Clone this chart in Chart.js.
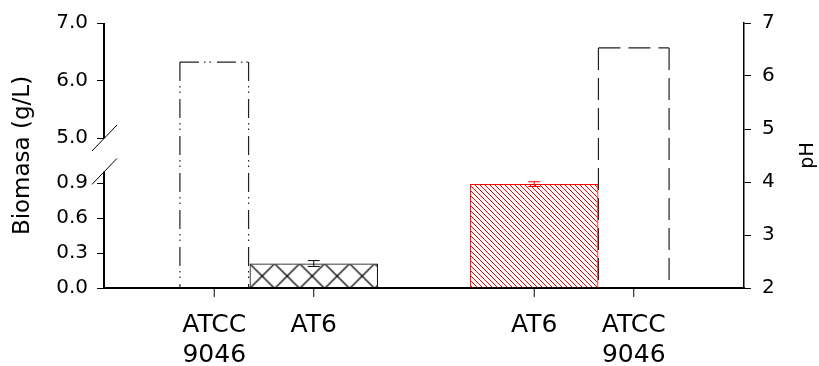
<!DOCTYPE html>
<html>
<head>
<meta charset="utf-8">
<script src="https://cdn.jsdelivr.net/npm/chart.js@4.4.1/dist/chart.umd.min.js"></script>
<style>
  html, body { margin: 0; padding: 0; background: #fff; }
  #wrap { width: 819px; height: 366px; }
</style>
</head>
<body>
<div id="wrap"><canvas id="chart"></canvas></div>
<script>
// two groups: biomass (left axis) and pH (right axis)
const groups = ['Biomasa', 'pH'];
const biomasaATCC = [6.32, null];
const biomasaAT6 = [0.21, null];
const biomasaAT6Err = [0.025, null];
const phAT6 = [null, 3.96];
const phAT6Err = [null, 0.045];
const phATCC = [null, 6.53];

const atccLabel = ['ATCC', '9046'];
const at6Label = ['AT6'];

const biomasaTicks = [0, 0.3, 0.6, 0.9, 5, 6, 7];
const biomasaBreak = [1.0, 5.0];
const phTicks = [2, 3, 4, 5, 6, 7];

Chart.defaults.font.family = 'DejaVu Sans';
Chart.defaults.color = '#000';

// linear axis with a jump between biomasaBreak[0] and biomasaBreak[1]
class BrokenScale extends Chart.LinearScale {
  buildTicks() {
    return biomasaTicks.map(value => ({ value }));
  }
  parts() {
    const h = this.bottom - this.top;
    const low = h * this.options.lowPart;
    const gap = h * this.options.gapPart;
    return { low, gap, high: h - low - gap };
  }
  getPixelForValue(value) {
    const [lo, hi] = biomasaBreak;
    const p = this.parts();
    if (value <= lo) return this.bottom - (value - this.min) / (lo - this.min) * p.low;
    if (value >= hi) return this.top + (this.max - value) / (this.max - hi) * p.high;
    return this.bottom - p.low - (value - lo) / (hi - lo) * p.gap;
  }
  getValueForPixel(pixel) {
    const [lo, hi] = biomasaBreak;
    const p = this.parts();
    const up = this.bottom - pixel;
    if (up <= p.low) return this.min + up / p.low * (lo - this.min);
    if (up >= p.low + p.gap) return this.max - (pixel - this.top) / p.high * (this.max - hi);
    return lo + (up - p.low) / p.gap * (hi - lo);
  }
}
BrokenScale.id = 'broken';
BrokenScale.defaults = Chart.LinearScale.defaults;
Chart.register(BrokenScale);

function makePattern(size, color, cross, width) {
  const c = document.createElement('canvas');
  c.width = c.height = size;
  const g = c.getContext('2d');
  g.strokeStyle = color;
  g.lineWidth = width;
  g.beginPath();
  for (let k = -1; k <= 1; k++) {
    g.moveTo(k * size, 0); g.lineTo(k * size + size, size);
    if (cross) { g.moveTo(k * size, size); g.lineTo(k * size + size, 0); }
  }
  g.stroke();
  return g.createPattern(c, 'repeat');
}
const hatchCross = makePattern(25, '#000', true, 1.3);
const hatchRed = makePattern(5, '#ff0000', false, 1);

const extras = {
  id: 'extras',
  beforeDatasetsDraw(chart) {
    const ctx = chart.ctx;
    const crossBar = chart.getDatasetMeta(1).data[0];
    if (hatchCross.setTransform) {
      hatchCross.setTransform(new DOMMatrix().translate(crossBar.x - crossBar.width / 2, crossBar.y));
    }
    chart.data.datasets.forEach((ds, i) => {
      if (!ds.outlineDash) return;
      chart.getDatasetMeta(i).data.forEach((el, j) => {
        if (ds.data[j] == null) return;
        const l = el.x - el.width / 2, r = el.x + el.width / 2;
        ctx.save();
        ctx.strokeStyle = '#222';
        ctx.lineWidth = 1.2;
        ctx.setLineDash(ds.outlineDash);
        [[l, el.y, l, el.base], [l, el.y, r, el.y], [r, el.y, r, el.base]].forEach(s => {
          ctx.beginPath();
          ctx.moveTo(s[0], s[1]);
          ctx.lineTo(s[2], s[3]);
          ctx.stroke();
        });
        ctx.restore();
      });
    });
  },
  afterDatasetsDraw(chart) {
    const ctx = chart.ctx;
    chart.data.datasets.forEach((ds, i) => {
      if (!ds.err) return;
      const scale = chart.scales[ds.yAxisID];
      chart.getDatasetMeta(i).data.forEach((el, j) => {
        if (ds.data[j] == null || ds.err[j] == null) return;
        const y1 = scale.getPixelForValue(ds.data[j] + ds.err[j]);
        const y2 = scale.getPixelForValue(ds.data[j] - ds.err[j]);
        ctx.save();
        ctx.strokeStyle = ds.borderColor;
        ctx.lineWidth = 1;
        ctx.beginPath();
        ctx.moveTo(el.x, y1); ctx.lineTo(el.x, y2);
        ctx.moveTo(el.x - 6, y1); ctx.lineTo(el.x + 6, y1);
        ctx.moveTo(el.x - 6, y2); ctx.lineTo(el.x + 6, y2);
        ctx.stroke();
        ctx.restore();
      });
    });
  },
  afterDraw(chart) {
    const ctx = chart.ctx;
    const area = chart.chartArea;
    const y = chart.scales.y;
    const x0 = y.right;
    const pLow = y.getPixelForValue(biomasaBreak[0]);
    const pHigh = y.getPixelForValue(biomasaBreak[1]);
    ctx.save();
    ctx.strokeStyle = '#000';
    // left axis with break
    ctx.lineWidth = 2;
    ctx.beginPath();
    ctx.moveTo(x0, area.bottom + 1); ctx.lineTo(x0, pLow);
    ctx.moveTo(x0, pHigh); ctx.lineTo(x0, area.top);
    ctx.stroke();
    ctx.lineWidth = 1;
    ctx.beginPath();
    [pLow, pHigh].forEach(p => {
      ctx.moveTo(x0 - 12, p + 13);
      ctx.lineTo(x0 + 13, p - 13);
    });
    ctx.stroke();

    // category ticks and labels under each bar
    ctx.fillStyle = '#000';
    ctx.font = '25px "DejaVu Sans"';
    ctx.textAlign = 'center';
    ctx.textBaseline = 'middle';
    chart.data.datasets.forEach((ds, i) => {
      chart.getDatasetMeta(i).data.forEach((el, j) => {
        if (ds.data[j] == null) return;
        ctx.beginPath();
        ctx.moveTo(el.x, area.bottom);
        ctx.lineTo(el.x, area.bottom + 9);
        ctx.stroke();
        ds.strain.forEach((line, k) => ctx.fillText(line, el.x, area.bottom + 37 + k * 30));
      });
    });

    // right axis title, reading upward
    ctx.font = '19px "DejaVu Sans"';
    ctx.translate(808, (area.top + area.bottom) / 2);
    ctx.rotate(-Math.PI / 2);
    ctx.fillText('pH', 0, 0);
    ctx.restore();
  }
};

new Chart(document.getElementById('chart'), {
  type: 'bar',
  data: {
    labels: groups,
    datasets: [
      { label: 'ATCC 9046', data: biomasaATCC, yAxisID: 'y', backgroundColor: 'rgba(0,0,0,0)',
        borderWidth: 0, barPercentage: 0.69, outlineDash: [19, 5, 1.5, 4, 1.5, 6], strain: atccLabel },
      { label: 'AT6', data: biomasaAT6, err: biomasaAT6Err, yAxisID: 'y', backgroundColor: hatchCross,
        borderColor: '#000', borderWidth: 1, barPercentage: 1.29, strain: at6Label },
      { label: 'AT6', data: phAT6, err: phAT6Err, yAxisID: 'y1', base: phTicks[0], backgroundColor: hatchRed,
        borderColor: '#ff0000', borderWidth: 1, barPercentage: 1.29, strain: at6Label },
      { label: 'ATCC 9046', data: phATCC, yAxisID: 'y1', base: phTicks[0], backgroundColor: 'rgba(0,0,0,0)',
        borderWidth: 0, barPercentage: 0.71, outlineDash: [22, 8], strain: atccLabel }
    ]
  },
  options: {
    responsive: true,
    maintainAspectRatio: false,
    animation: false,
    layout: { padding: { top: 23 } },
    datasets: { bar: { skipNull: true, categoryPercentage: 0.622 } },
    plugins: { legend: { display: false }, tooltip: { enabled: false } },
    scales: {
      x: {
        grid: { display: false },
        border: { display: true, color: '#000', width: 2 },
        ticks: { display: false },
        afterFit(s) { s.height = 78; }
      },
      y: {
        type: 'broken',
        position: 'left',
        min: 0,
        max: 7,
        lowPart: 0.44,
        gapPart: 0.126,
        grid: { drawOnChartArea: false, color: '#000', tickLength: 7, lineWidth: 1 },
        border: { display: false },
        ticks: { autoSkip: false, padding: 9, font: { size: 20 }, callback: v => v.toFixed(1) },
        title: { display: true, text: 'Biomasa (g/L)', font: { size: 23 }, padding: { top: 9, bottom: 0 } },
        afterFit(s) { s.width = 104; }
      },
      y1: {
        type: 'linear',
        position: 'right',
        min: 2,
        max: 7,
        afterBuildTicks(s) { s.ticks = phTicks.map(value => ({ value })); },
        grid: { drawOnChartArea: false, color: '#000', tickLength: 7, lineWidth: 1 },
        border: { display: true, color: '#000', width: 1.5 },
        ticks: { autoSkip: false, padding: 11, font: { size: 20 } },
        afterFit(s) { s.width = 75; }
      }
    }
  },
  plugins: [extras]
});
</script>
</body>
</html>
